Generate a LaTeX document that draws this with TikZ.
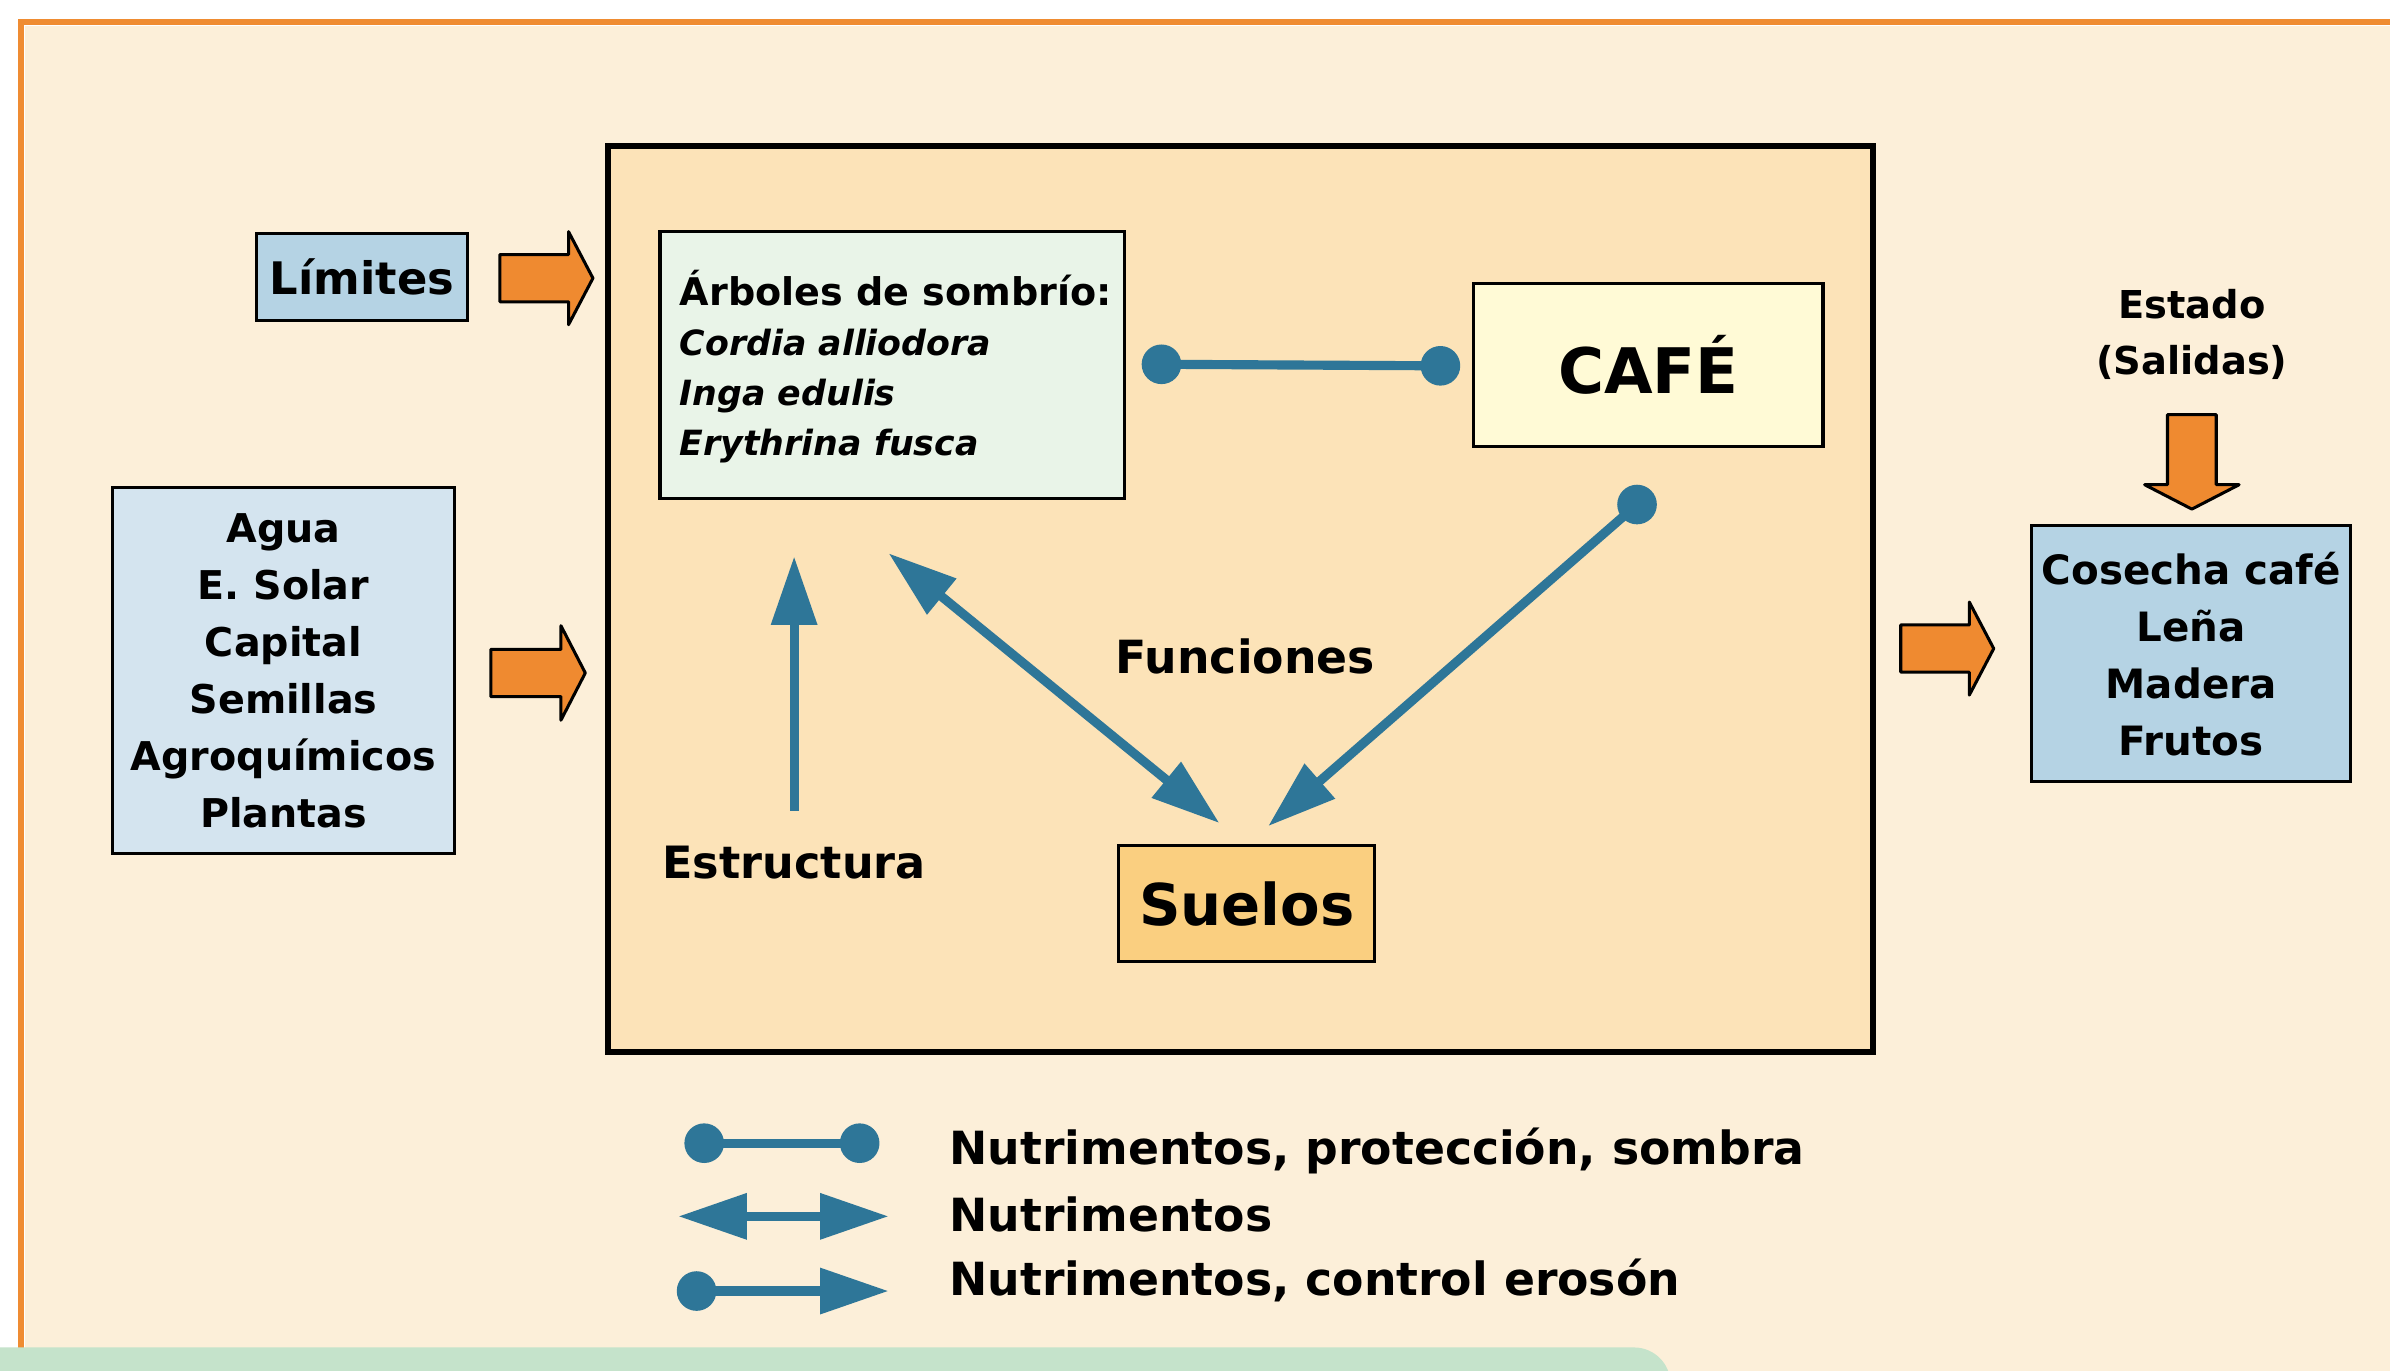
\documentclass[tikz,border=0pt]{standalone}
\usepackage{fontspec}
\setmainfont{DejaVu Sans}
\usetikzlibrary{arrows.meta}
\definecolor{cream}{HTML}{FCEFD9}
\definecolor{peach}{HTML}{FCE3B8}
\definecolor{frameor}{HTML}{EF8C32}
\definecolor{arror}{HTML}{EF8A30}
\definecolor{limblue}{HTML}{B5D3E4}
\definecolor{aguablue}{HTML}{D4E4EF}
\definecolor{arbgreen}{HTML}{E9F4E8}
\definecolor{cafey}{HTML}{FFFAD6}
\definecolor{suelor}{HTML}{FACF80}
\definecolor{tealc}{HTML}{2E7698}
\definecolor{greenb}{HTML}{C5E3CB}
\begin{document}
\begin{tikzpicture}[x=0.5pt,y=-0.5pt,
  box/.style={draw=black, line width=1pt, inner sep=0pt, outer sep=0pt},
  lbl/.style={inner sep=0pt, outer sep=0pt},
  blockarrow/.style={fill=arror, draw=black, line width=1pt, line join=round},
  conn/.style={draw=tealc, line width=3pt},
  headend/.style={-{Triangle[length=22.5pt,width=14.5pt]}},
  headboth/.style={{Triangle[length=22.5pt,width=14.5pt]}-{Triangle[length=22.5pt,width=14.5pt]}},
  dot/.style={fill=tealc}]
\useasboundingbox (0,0) rectangle (1568,899);
\clip (0,0) rectangle (1568,899);
% background and frame
\fill[white] (0,0) rectangle (1568,899);
\fill[cream] (16.5,17) rectangle (1600,950);
\draw[frameor, line width=2pt] (14,950) -- (14,14.5) -- (1600,14.5);
\fill[greenb, rounded corners=12pt] (-30,884) rectangle (1096,960);
% main system box
\node[draw=black, line width=2pt, fill=peach, minimum width=415pt, minimum height=297pt, inner sep=0pt] (sys) at (814,393) {};
% inputs
\node[box, fill=limblue, minimum width=69.5pt, minimum height=28.5pt,
  font=\bfseries\fontsize{14.7}{17}\selectfont] (lim) at (237.5,181.5) {Límites};
\node[box, fill=aguablue, minimum width=112pt, minimum height=120pt, align=center,
  font=\bfseries\fontsize{13}{18.7}\selectfont] (agua) at (186,440)
  {Agua\\E. Solar\\Capital\\Semillas\\Agroquímicos\\Plantas};
\draw[blockarrow] (328,167) -- (373,167) -- (373,152) -- (389,182.5) -- (373,213) -- (373,198) -- (328,198) -- cycle;
\draw[blockarrow] (322,426) -- (368,426) -- (368,410.5) -- (384,441.5) -- (368,472.5) -- (368,457) -- (322,457) -- cycle;
% inner boxes
\node[box, fill=arbgreen, minimum width=152.5pt, minimum height=87.5pt] (arb) at (585.5,239.5) {};
\node[lbl, anchor=west, align=left, font=\bfseries\fontsize{12.5}{16.5}\selectfont] (arbt) at (446,240.5)
  {Árboles de sombrío:\\
   {\fontsize{11.4}{16.5}\selectfont\itshape Cordia alliodora}\\
   {\fontsize{11.4}{16.5}\selectfont\itshape Inga edulis}\\
   {\fontsize{11.4}{16.5}\selectfont\itshape Erythrina fusca}};
\node[box, fill=cafey, minimum width=114.5pt, minimum height=53.5pt,
  font=\bfseries\fontsize{20.6}{24}\selectfont] (cafe) at (1081.5,239.5) {CAFÉ};
\node[box, fill=suelor, minimum width=84pt, minimum height=38pt,
  font=\bfseries\fontsize{18.9}{22}\selectfont] (suelos) at (818,593) {Suelos};
\node[lbl, font=\bfseries\fontsize{15}{18}\selectfont] (func) at (817,431) {Funciones};
\node[lbl, font=\bfseries\fontsize{14.6}{18}\selectfont] (estr) at (521,566) {Estructura};
% connectors
\coordinate (d1) at (762,239);
\coordinate (d2) at (945,240);
\draw[conn] (d1) -- (d2);
\fill[dot] (d1) circle (6.5pt);
\fill[dot] (d2) circle (6.5pt);
\coordinate (s1) at (521,532);
\coordinate (s2) at (521,365);
\draw[conn, headend, tealc] (s1) -- (s2);
\coordinate (b1) at (583,363);
\coordinate (b2) at (800,540);
\draw[conn, headboth, tealc] (b1) -- (b2);
\coordinate (c1) at (1074,331);
\coordinate (c2) at (832,542);
\draw[conn, headend, tealc] (c1) -- (c2);
\fill[dot] (c1) circle (6.5pt);
% outputs
\node[lbl, align=center, font=\bfseries\fontsize{12.6}{18.5}\selectfont] (estado) at (1438,219.5) {Estado\\(Salidas)};
\draw[blockarrow] (1422,272) -- (1454,272) -- (1454,318) -- (1469,318) -- (1438,334) -- (1407,318) -- (1422,318) -- cycle;
\draw[blockarrow] (1247,410) -- (1292,410) -- (1292,395) -- (1308,425.5) -- (1292,456) -- (1292,441) -- (1247,441) -- cycle;
\node[box, fill=limblue, minimum width=104.5pt, minimum height=84pt, align=center,
  font=\bfseries\fontsize{13.25}{18.65}\selectfont] (cos) at (1437.5,429)
  {Cosecha café\\Leña\\Madera\\Frutos};
% legend
\coordinate (l1a) at (462,750);
\coordinate (l1b) at (564,750);
\draw[conn] (l1a) -- (l1b);
\fill[dot] (l1a) circle (6.5pt);
\fill[dot] (l1b) circle (6.5pt);
\coordinate (l2a) at (445,798);
\coordinate (l2b) at (583,798);
\draw[conn, headboth, tealc] (l2a) -- (l2b);
\coordinate (l3a) at (457,847);
\coordinate (l3b) at (583,847);
\draw[conn, headend, tealc] (l3a) -- (l3b);
\fill[dot] (l3a) circle (6.5pt);
\node[lbl, anchor=west, font=\bfseries\fontsize{15}{18}\selectfont] (t1) at (623,755) {Nutrimentos, protección, sombra};
\node[lbl, anchor=west, font=\bfseries\fontsize{15}{18}\selectfont] (t2) at (623,797) {Nutrimentos};
\node[lbl, anchor=west, font=\bfseries\fontsize{15}{18}\selectfont] (t3) at (623,840) {Nutrimentos, control erosón};
\end{tikzpicture}
\end{document}
